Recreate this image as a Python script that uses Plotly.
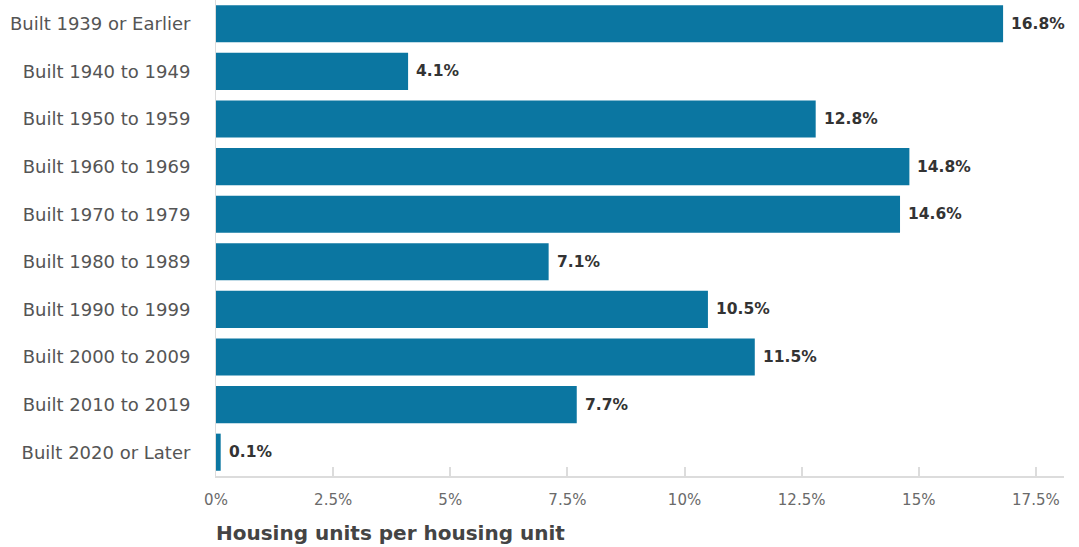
import plotly.graph_objects as go

# Share of housing units by year structure built
categories = [
    "Built 1939 or Earlier",
    "Built 1940 to 1949",
    "Built 1950 to 1959",
    "Built 1960 to 1969",
    "Built 1970 to 1979",
    "Built 1980 to 1989",
    "Built 1990 to 1999",
    "Built 2000 to 2009",
    "Built 2010 to 2019",
    "Built 2020 or Later",
]
shares = [16.8, 4.1, 12.8, 14.8, 14.6, 7.1, 10.5, 11.5, 7.7, 0.1]

tick_values = [0, 2.5, 5, 7.5, 10, 12.5, 15, 17.5]
tick_labels = ["0%", "2.5%", "5%", "7.5%", "10%", "12.5%", "15%", "17.5%"]

FONT = "DejaVu Sans"
BAR_COLOR = "#0b76a1"

fig = go.Figure(
    go.Bar(
        x=shares,
        y=categories,
        orientation="h",
        marker=dict(color=BAR_COLOR, line=dict(width=0)),
        hoverinfo="skip",
    )
)

# value labels just past the end of each bar
for cat, val in zip(categories, shares):
    fig.add_annotation(
        x=val, y=cat, xref="x", yref="y",
        text=f"<b>{val:.1f}%</b>",
        showarrow=False, xanchor="left", yanchor="middle", xshift=6,
        font=dict(family=FONT, size=15.5, color="#333333"),
    )

# axis title, left aligned under the plot
fig.add_annotation(
    x=0, y=-0.12, xref="paper", yref="paper",
    text="<b>Housing units per housing unit</b>",
    showarrow=False, xanchor="left", yanchor="middle", xshift=-2,
    font=dict(family=FONT, size=20, color="#444444"),
)

fig.update_layout(
    width=1079, height=547,
    margin=dict(l=216, r=15, t=0, b=71, autoexpand=False),
    paper_bgcolor="white", plot_bgcolor="white",
    bargap=0.22,
    showlegend=False,
    font=dict(family=FONT),
)
fig.update_xaxes(
    range=[0, 18.1],
    tickvals=tick_values, ticktext=tick_labels,
    showgrid=False, zeroline=False,
    showline=True, linecolor="#dcdcdc", linewidth=2,
    ticks="inside", ticklen=9, tickcolor="#dcdcdc", tickwidth=2,
    tickfont=dict(family=FONT, size=15, color="#6a6a6a"),
    ticklabelstandoff=9,
    fixedrange=True,
)
fig.update_yaxes(
    categoryorder="array", categoryarray=categories[::-1],
    autorange=False, range=[-0.5, 9.5],
    showgrid=False, zeroline=False,
    showline=True, linecolor="#dcdcdc", linewidth=1,
    ticks="", automargin=False,
    tickfont=dict(family=FONT, size=18, color="#555555"),
    ticklabelstandoff=21,
    fixedrange=True,
)

fig.write_html("out.html", config={"displayModeBar": False})
